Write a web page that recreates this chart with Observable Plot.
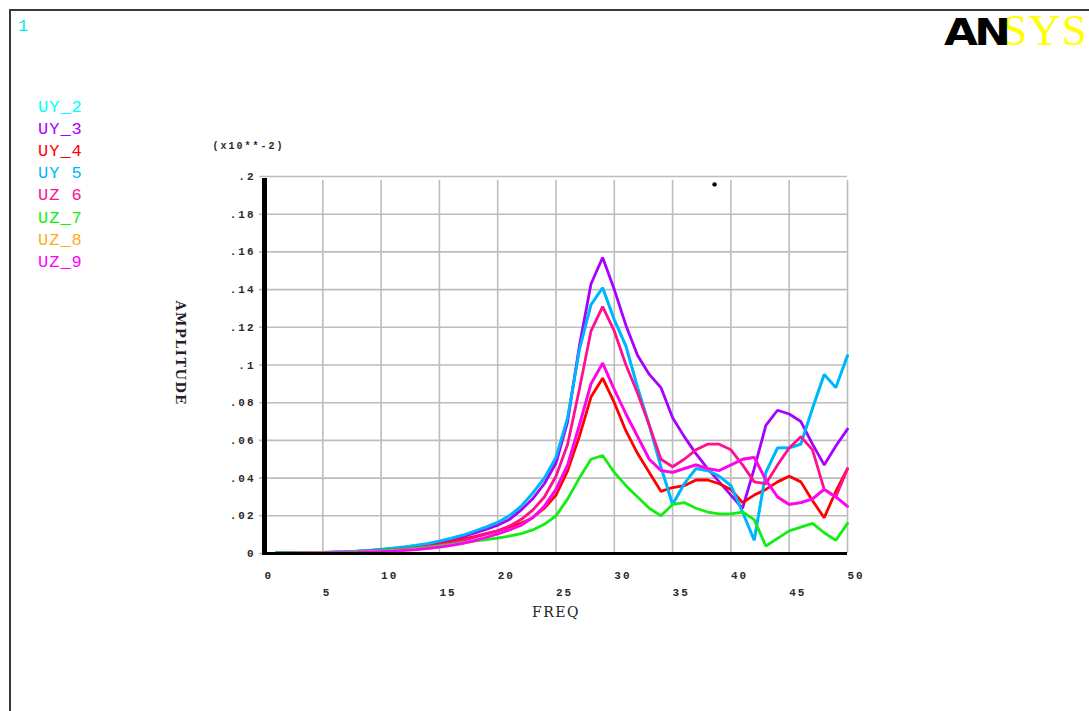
<!DOCTYPE html>
<html>
<head>
<meta charset="utf-8">
<script src="https://cdn.jsdelivr.net/npm/d3@7"></script>
<script src="https://cdn.jsdelivr.net/npm/@observablehq/plot@0.6"></script>
<style>
  html, body { margin: 0; padding: 0; background: #fff; }
  #page { position: relative; width: 1089px; height: 711px; overflow: hidden; background: #fff; }
  #page svg { position: absolute; left: 0; top: 0; }
  .frameTop { position: absolute; left: 9px; top: 9px; width: 1080px; height: 2px; background: #3a3a3a; }
  .frameLeft { position: absolute; left: 9px; top: 9px; width: 2px; height: 702px; background: #3a3a3a; }
  .num { position: absolute; left: 18px; top: 17px; font: 17px "Liberation Mono", monospace; color: #00e8e8; }
  .logo { position: absolute; left: 944px; top: 4px; white-space: nowrap; line-height: 46px; }
  .logo .an { font: 900 38px "DejaVu Sans", sans-serif; color: #000; letter-spacing: -3px; transform: scaleX(1.15); display: inline-block; transform-origin: left; }
  .logo .sys { font: 45px "Liberation Serif", serif; color: #ffff00; letter-spacing: 1px; margin-left: 3px; }
  .leg { position: absolute; left: 38px; font: 17px "Liberation Mono", monospace; line-height: 17px; letter-spacing: 1px; }
</style>
</head>
<body>
<div id="page">
  <div class="frameTop"></div>
  <div class="frameLeft"></div>
  <div class="num">1</div>
  <div class="logo"><span class="an">AN</span><span class="sys">SYS</span></div>
</div>
<script>
// ---- data ----
const freq = [1,2,3,4,5,6,7,8,9,10,11,12,13,14,15,16,17,18,19,20,21,22,23,24,25,26,27,28,29,30,31,32,33,34,35,36,37,38,39,40,41,42,43,44,45,46,47,48,49,50];

const UY_5 = [0.0003,0.0003,0.0004,0.0005,0.0006,0.0008,0.0010,0.0013,0.0017,0.0022,
              0.0028,0.0035,0.0043,0.0053,0.0066,0.0080,0.0097,0.0118,0.0140,0.0165,
              0.020,0.025,0.032,0.040,0.051,0.072,0.108,0.132,0.141,0.124,
              0.110,0.088,0.068,0.046,0.026,0.037,0.045,0.044,0.041,0.036,
              0.022,0.007,0.043,0.056,0.056,0.058,0.077,0.095,0.088,0.105];
const UY_2 = [0.0003,0.0003,0.0004,0.0005,0.0006,0.0008,0.0010,0.0013,0.0017,0.0022,
              0.0028,0.0035,0.0043,0.0053,0.0066,0.0080,0.0097,0.0118,0.0140,0.0165,
              0.020,0.025,0.032,0.040,0.051,0.072,0.108,0.132,0.141,0.124,
              0.110,0.088,0.068,0.046,0.026,0.037,0.045,0.044,0.041,0.036,
              0.022,0.007,0.043,0.056,0.056,0.058,0.077,0.095,0.088,0.105];
const UY_3 = [0.0003,0.0003,0.0004,0.0005,0.0006,0.0007,0.0009,0.0012,0.0015,0.0020,
              0.0025,0.0031,0.0039,0.0048,0.0060,0.0073,0.0089,0.0108,0.0128,0.0150,
              0.018,0.023,0.029,0.037,0.048,0.070,0.110,0.143,0.157,0.140,
              0.121,0.105,0.095,0.088,0.072,0.062,0.053,0.045,0.038,0.031,
              0.024,0.045,0.068,0.076,0.074,0.070,0.058,0.047,0.057,0.066];
const UY_4 = [0.0002,0.0002,0.0003,0.0003,0.0004,0.0005,0.0007,0.0009,0.0012,0.0015,
              0.0019,0.0024,0.0031,0.0039,0.0050,0.0062,0.0076,0.0090,0.0105,0.0120,
              0.014,0.016,0.019,0.024,0.031,0.044,0.062,0.083,0.093,0.080,
              0.065,0.053,0.043,0.033,0.035,0.036,0.039,0.039,0.037,0.034,
              0.027,0.031,0.034,0.038,0.041,0.038,0.028,0.019,0.033,0.045];
const UZ_6 = [0.0002,0.0002,0.0003,0.0003,0.0004,0.0005,0.0007,0.0009,0.0012,0.0015,
              0.0019,0.0024,0.0030,0.0037,0.0046,0.0057,0.0070,0.0086,0.0103,0.0120,
              0.0145,0.018,0.023,0.030,0.041,0.058,0.087,0.118,0.131,0.118,
              0.100,0.085,0.068,0.050,0.046,0.050,0.055,0.058,0.058,0.055,
              0.047,0.038,0.037,0.047,0.056,0.062,0.055,0.034,0.030,0.045];
const UZ_7 = [0.0002,0.0002,0.0003,0.0003,0.0004,0.0005,0.0007,0.0009,0.0011,0.0014,
              0.0018,0.0022,0.0027,0.0033,0.0040,0.0048,0.0057,0.0066,0.0074,0.0082,
              0.0092,0.0105,0.0125,0.0155,0.020,0.029,0.040,0.050,0.052,0.043,
              0.036,0.030,0.024,0.020,0.026,0.027,0.024,0.022,0.021,0.021,
              0.022,0.018,0.004,0.008,0.012,0.014,0.016,0.011,0.007,0.016];
const UZ_9 = [0.0001,0.0001,0.0002,0.0002,0.0003,0.0004,0.0005,0.0006,0.0008,0.0010,
              0.0013,0.0017,0.0021,0.0027,0.0034,0.0043,0.0054,0.0068,0.0085,0.0104,
              0.0125,0.015,0.019,0.025,0.034,0.047,0.068,0.090,0.101,0.087,
              0.074,0.062,0.050,0.044,0.043,0.045,0.047,0.045,0.044,0.047,
              0.050,0.051,0.039,0.030,0.026,0.027,0.029,0.034,0.030,0.025];
const UZ_8 = [0.0001,0.0001,0.0002,0.0002,0.0003,0.0004,0.0005,0.0006,0.0008,0.0010,
              0.0013,0.0017,0.0021,0.0027,0.0034,0.0043,0.0054,0.0068,0.0085,0.0104,
              0.0125,0.015,0.019,0.025,0.034,0.047,0.068,0.090,0.101,0.087,
              0.074,0.062,0.050,0.044,0.043,0.045,0.047,0.045,0.044,0.047,
              0.050,0.051,0.039,0.030,0.026,0.027,0.029,0.034,0.030,0.025];

const seriesNames  = ["UY_2", "UY_3", "UY_4", "UY_5", "UZ_6", "UZ_7", "UZ_8", "UZ_9"];
const legendLabels = ["UY_2", "UY_3", "UY_4", "UY 5", "UZ 6", "UZ_7", "UZ_8", "UZ_9"];
const seriesColors = ["#00ffff", "#a800ff", "#ff0000", "#00b4ff", "#ff1090", "#12ee12", "#ffaa20", "#ff00ff"];
const seriesValues = [UY_2, UY_3, UY_4, UY_5, UZ_6, UZ_7, UZ_8, UZ_9];

const yTicks      = [0, 0.02, 0.04, 0.06, 0.08, 0.10, 0.12, 0.14, 0.16, 0.18, 0.20];
const yTickLabels = ["0", ".02", ".04", ".06", ".08", ".1", ".12", ".14", ".16", ".18", ".2"];
const xGridTicks  = [0, 5, 10, 15, 20, 25, 30, 35, 40, 45, 50];
const xTicksUpper = [0, 10, 20, 30, 40, 50];
const xTicksLower = [5, 15, 25, 35, 45];
const marker = [{freq: 38.6, amp: 0.1958}];

// ---- build ----
const rows = seriesNames.flatMap((name, s) =>
  seriesValues[s].map((v, i) => ({series: name, freq: freq[i], amp: v})));
const yRows = yTicks.map((v, i) => ({v, label: yTickLabels[i]}));

const tickFont = {fontFamily: "Liberation Mono, monospace", fontSize: 11, fontWeight: "bold", fill: "#2a2a2a"};

const chart = Plot.plot({
  width: 1089,
  height: 711,
  marginLeft: 264,
  marginRight: 242,
  marginTop: 176,
  marginBottom: 158,
  style: {background: "transparent", overflow: "visible"},
  x: {domain: [0, 50], axis: null},
  y: {domain: [0, 0.2], axis: null},
  color: {domain: seriesNames, range: seriesColors},
  marks: [
    Plot.ruleX(xGridTicks, {stroke: "#bdbdbd", strokeWidth: 1.6, y1: 0, y2: 0.2, insetBottom: -4}),
    Plot.ruleY(yTicks, {stroke: "#bdbdbd", strokeWidth: 1.6, x1: 0, x2: 50, insetLeft: -5}),
    Plot.line(rows, {x: "freq", y: "amp", z: "series", stroke: "series", strokeWidth: 2.8, strokeLinejoin: "miter"}),
    Plot.ruleX([0], {stroke: "#000", strokeWidth: 5, y1: 0, y2: 0.2, insetBottom: -2}),
    Plot.ruleY([0], {stroke: "#000", strokeWidth: 3, x1: 0, x2: 50, insetLeft: -2}),
    Plot.dot(marker, {x: "freq", y: "amp", r: 2.2, fill: "#000"}),
    Plot.text(yRows, {x: 0, y: "v", text: "label", textAnchor: "end", dx: -9, ...tickFont}),
    Plot.text(xTicksUpper, {x: d => d, frameAnchor: "bottom", text: d => String(d), textAnchor: "start", dy: 25, ...tickFont}),
    Plot.text(xTicksLower, {x: d => d, frameAnchor: "bottom", text: d => String(d), textAnchor: "start", dy: 42, ...tickFont}),
    Plot.text(["(x10**-2)"], {frameAnchor: "top-left", dx: -52, dy: -35, textAnchor: "start", fontFamily: "Liberation Mono, monospace", fontSize: 10, fontWeight: "bold", fill: "#2a2a2a"}),
    Plot.text(["AMPLITUDE"], {frameAnchor: "left", dx: -84, dy: -12, rotate: 90, textAnchor: "middle", fontFamily: "DejaVu Serif, serif", fontSize: 13, fontWeight: "bold", fill: "#222"}),
    Plot.text(["FREQ"], {frameAnchor: "bottom", dy: 63, fontFamily: "DejaVu Serif, serif", fontSize: 14, fill: "#222"})
  ]
});

// letter spacing for the ANSYS-style raster font
d3.select(chart).selectAll("g[aria-label='text']").each(function() {
  const g = d3.select(this);
  const ff = g.attr("font-family") || "";
  if (ff.includes("Liberation Mono")) g.style("letter-spacing", "2px");
  if (ff.includes("DejaVu Serif")) g.style("letter-spacing", "1.5px");
});

const page = document.getElementById("page");
page.insertBefore(chart, page.firstChild);

seriesNames.forEach((name, i) => {
  const d = document.createElement("div");
  d.className = "leg";
  d.style.top = (99 + i * 22.1) + "px";
  d.style.color = seriesColors[i];
  d.textContent = legendLabels[i];
  page.appendChild(d);
});
</script>
</body>
</html>
